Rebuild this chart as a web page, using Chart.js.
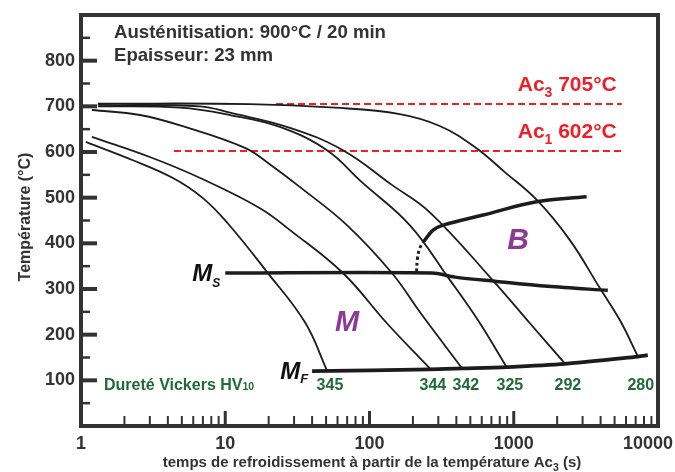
<!DOCTYPE html>
<html><head><meta charset="utf-8">
<script src="https://cdn.jsdelivr.net/npm/chart.js@4.4.1/dist/chart.umd.min.js"></script>
<style>html,body{margin:0;padding:0;background:#fff}canvas{display:block}</style>
</head><body>
<canvas id="c" width="675" height="472"></canvas>
<script>
// ---------- data ----------
const xTickLabels = [1, 10, 100, 1000, 10000];
const yTickLabels = [100, 200, 300, 400, 500, 600, 700, 800];
const hardnessLabels = ['345', '344', '342', '325', '292', '280'];
const ac3Value = 705;
const ac1Value = 602;

// cooling curves [time s, temperature °C]
const curve345 = [[1.08,622],[2.29,582],[4.34,543],[7.0,499],[10.4,444],[19.5,337],[35.7,227],[50.7,122]];
const curve344 = [[1.19,633],[3.0,589],[6.7,543],[17.4,477],[28.1,429],[65.4,335],[132,225],[262,126]];
const curve342 = [[1.19,692],[2.56,681],[5.26,655],[13.7,609],[21,570],[33,523],[69.7,440],[143,335],[224,249],[444,124]];
const curve325 = [[1.31,700],[4.85,697],[10.8,681],[23.9,655],[50.7,604],[88.5,534],[190,440],[349,326],[564,232],[896,128]];
const curve292 = [[1.31,703],[6.68,700],[10.8,686],[28.1,653],[65.4,604],[143,528],[262,468],[716,319],[1294,225],[2260,137]];
const curve280 = [[1.31,706],[14.8,705],[57.6,697],[162,683],[307,657],[537,611],[867,556],[1445,495],[2449,407],[3953,302],[5436,232],[7244,153]];

const msLine = [[10,335],[271,335],[391,326],[740,317],[1722,306],[4490,297]];
const mfLine = [[40,120],[262,124],[444,126],[896,129],[2260,136],[7244,152],[8500,155]];
const bainiteStart = [[236,403],[276,429],[324,440],[614,462],[1439,491],[3200,502]];
const bainiteDotted = [[212,338],[215,367],[223,389],[236,403]];
const ac3Line = [[22.5,ac3Value],[5610,ac3Value]];
const ac1Line = [[4.41,ac1Value],[5610,ac1Value]];

// ---------- styles ----------
const FONT = '"Liberation Sans", Arial, Helvetica, sans-serif';
const DARK = '#333333';
const CURVE = '#1c1c1c';
const GREEN = '#1f6b38';
const PURPLE = '#8b3a97';
const RED = '#ee1f26';

const pts = a => a.map(([x, y]) => ({x, y}));
const coolingCurves = [curve345, curve344, curve342, curve325, curve292, curve280];

const datasets = [];
coolingCurves.forEach(c => datasets.push({data: pts(c), borderColor: CURVE, borderWidth: 1.8, tension: 0.4}));
datasets.push({data: pts(ac3Line), borderColor: RED, borderWidth: 2, borderDash: [7, 4]});
datasets.push({data: pts(ac1Line), borderColor: RED, borderWidth: 2, borderDash: [7, 4]});
datasets.push({data: pts(msLine), borderColor: CURVE, borderWidth: 3.5, tension: 0.3});
datasets.push({data: pts(mfLine), borderColor: CURVE, borderWidth: 3.8, tension: 0.3});
datasets.push({data: pts(bainiteStart), borderColor: CURVE, borderWidth: 3.5, tension: 0.4});
datasets.push({data: pts(bainiteDotted), borderColor: CURVE, borderWidth: 3, borderDash: [3, 3], tension: 0.4});
datasets.forEach(d => { d.showLine = true; d.pointRadius = 0; d.fill = false; });

function drawParts(ctx, parts, x, y, align) {
  let w = 0;
  parts.forEach(p => { ctx.font = p.font; p.w = ctx.measureText(p.t).width; w += p.w; });
  let cx = align === 'right' ? x - w : align === 'center' ? x - w / 2 : x;
  ctx.textAlign = 'left'; ctx.textBaseline = 'alphabetic';
  parts.forEach(p => { ctx.font = p.font; ctx.fillStyle = p.color; ctx.fillText(p.t, cx, y + (p.dy || 0)); cx += p.w; });
  return w;
}

const decor = {
  id: 'decor',
  afterDatasetsDraw(chart) {
    const {ctx, chartArea: a, scales: {x, y}} = chart;
    const W = chart.width;
    ctx.save();
    ctx.strokeStyle = DARK; ctx.lineCap = 'butt';
    // y ticks (inside)
    for (let v = 50; v < 900; v += 50) {
      const py = y.getPixelForValue(v);
      const major = v % 100 === 0;
      ctx.lineWidth = major ? 4 : 2.5;
      ctx.beginPath(); ctx.moveTo(a.left, py); ctx.lineTo(a.left + (major ? 16 : 9), py); ctx.stroke();
    }
    // x ticks (inside)
    for (let d = 1; d < 10000; d *= 10) {
      for (let k = 1; k < 10; k++) {
        const v = d * k; if (v <= 1) continue;
        const px = x.getPixelForValue(v);
        const major = k === 1;
        ctx.lineWidth = major ? 3 : 2;
        ctx.beginPath(); ctx.moveTo(px, a.bottom); ctx.lineTo(px, a.bottom - (major ? 15 : 10)); ctx.stroke();
      }
    }
    // frame
    ctx.lineWidth = 4;
    ctx.strokeRect(a.left, a.top, a.right - a.left, a.bottom - a.top);

    const bold = s => 'bold ' + s + 'px ' + FONT;
    const bi = s => 'italic bold ' + s + 'px ' + FONT;

    // x tick labels (kept inside the canvas)
    ctx.font = bold(18);
    xTickLabels.forEach(v => {
      const s = String(v);
      const w = ctx.measureText(s).width;
      let cx = x.getPixelForValue(v);
      cx = Math.min(cx, W - 2 - w / 2);
      drawParts(ctx, [{t: s, font: bold(18), color: DARK}], cx, a.bottom + 23, 'center');
    });

    drawParts(ctx, [{t: 'Austénitisation: 900°C / 20 min', font: bold(18.6), color: DARK}], 114, 38, 'left');
    drawParts(ctx, [{t: 'Epaisseur: 23 mm', font: bold(18.6), color: DARK}], 114, 61, 'left');

    // Ac labels
    const rx = x.getPixelForValue(ac3Line[1][0]) - 5;
    drawParts(ctx, [{t: 'Ac', font: bold(21), color: RED}, {t: '3', font: bold(14), color: RED, dy: 6}, {t: ' ' + ac3Value + '°C', font: bold(21), color: RED}], rx, y.getPixelForValue(ac3Value) - 13, 'right');
    drawParts(ctx, [{t: 'Ac', font: bold(21), color: RED}, {t: '1', font: bold(14), color: RED, dy: 6}, {t: ' ' + ac1Value + '°C', font: bold(21), color: RED}], rx, y.getPixelForValue(ac1Value) - 13, 'right');

    // Ms / Mf
    const msx = x.getPixelForValue(msLine[0][0]);
    const msy = y.getPixelForValue(msLine[0][1]);
    drawParts(ctx, [{t: 'M', font: bi(24), color: '#111'}, {t: 'S', font: bi(12), color: '#111', dy: 6}], msx - 5, msy + 8, 'right');
    const mfx = x.getPixelForValue(mfLine[0][0]);
    const mfy = y.getPixelForValue(mfLine[0][1]);
    drawParts(ctx, [{t: 'M', font: bi(24), color: '#111'}, {t: 'F', font: bi(13), color: '#111', dy: 4}], mfx - 4, mfy + 8, 'right');

    // phase labels
    ctx.fillStyle = PURPLE; ctx.textAlign = 'center'; ctx.textBaseline = 'middle';
    ctx.font = bi(29); ctx.fillText('M', 347, 323);
    ctx.font = bi(30); ctx.fillText('B', 518, 241);

    // hardness
    const hy = 390;
    drawParts(ctx, [{t: 'Dureté Vickers HV', font: bold(16), color: GREEN}, {t: '10', font: bold(10.5), color: GREEN}], 104, hy, 'left');
    coolingCurves.forEach((c, i) => {
      const last = c[c.length - 1];
      drawParts(ctx, [{t: hardnessLabels[i], font: bold(16), color: GREEN}], x.getPixelForValue(last[0]) + 3, hy, 'center');
    });

    // axis titles
    drawParts(ctx, [{t: 'temps de refroidissement à partir de la température Ac', font: bold(15), color: DARK}, {t: '3', font: bold(10.5), color: DARK, dy: 4}, {t: ' (s)', font: bold(15), color: DARK}], 372, 467, 'center');
    ctx.save();
    ctx.translate(30, 217); ctx.rotate(-Math.PI / 2);
    drawParts(ctx, [{t: 'Température (°C)', font: bold(16), color: DARK}], 0, 0, 'center');
    ctx.restore();
    ctx.restore();
  }
};

new Chart(document.getElementById('c'), {
  type: 'scatter',
  data: {datasets},
  options: {
    responsive: false, animation: false, devicePixelRatio: 1,
    layout: {padding: {left: 0, right: 17, top: 15, bottom: 0}},
    plugins: {legend: {display: false}, tooltip: {enabled: false}},
    scales: {
      x: {
        type: 'logarithmic', min: 1, max: 10000,
        border: {display: false},
        grid: {display: false, drawTicks: false},
        afterBuildTicks: s => { s.ticks = xTickLabels.map(v => ({value: v})); },
        afterFit: s => { s.height = 46; s.paddingLeft = 0; s.paddingRight = 0; },
        ticks: {display: false}
      },
      y: {
        type: 'linear', min: 0, max: 900,
        border: {display: false},
        grid: {display: false, drawTicks: false},
        afterBuildTicks: s => { s.ticks = yTickLabels.map(v => ({value: v})); },
        afterFit: s => { s.width = 81; s.paddingTop = 0; s.paddingBottom = 0; },
        ticks: {padding: 6, color: DARK, font: {family: FONT, size: 18, weight: 'bold'}, callback: v => String(v)}
      }
    }
  },
  plugins: [decor]
});
</script>
</body></html>
